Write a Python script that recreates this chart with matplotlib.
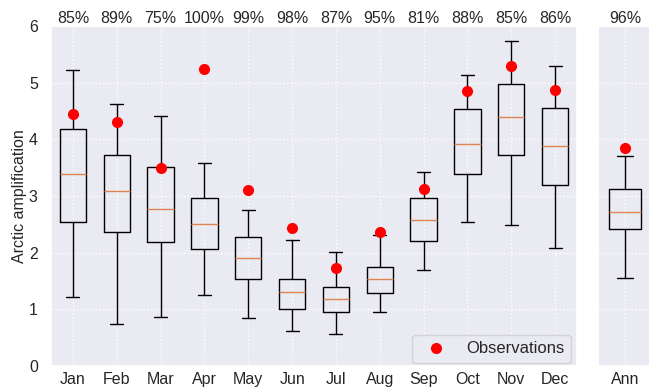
import matplotlib
matplotlib.use("Agg")
import matplotlib.pyplot as plt
import seaborn as sns
import numpy as np

months = ["Jan", "Feb", "Mar", "Apr", "May", "Jun", "Jul", "Aug", "Sep", "Oct", "Nov", "Dec"]
whislo = [1.22, 0.74, 0.87, 1.25, 0.85, 0.61, 0.56, 0.95, 1.69, 2.54, 2.48, 2.09]
q1 = [2.55, 2.36, 2.18, 2.06, 1.54, 1.01, 0.95, 1.28, 2.20, 3.38, 3.72, 3.19]
med = [3.39, 3.08, 2.77, 2.50, 1.91, 1.31, 1.18, 1.53, 2.57, 3.91, 4.40, 3.89]
q3 = [4.19, 3.73, 3.51, 2.96, 2.28, 1.54, 1.40, 1.74, 2.97, 4.53, 4.97, 4.55]
whishi = [5.22, 4.63, 4.41, 3.59, 2.75, 2.22, 2.01, 2.32, 3.42, 5.14, 5.74, 5.30]
obs = [4.44, 4.30, 3.49, 5.24, 3.11, 2.44, 1.73, 2.36, 3.12, 4.85, 5.29, 4.87]
pct = ["85%", "89%", "75%", "100%", "99%", "98%", "87%", "95%", "81%", "88%", "85%", "86%"]

ann_label = "Ann"
ann_stats = dict(whislo=1.56, q1=2.41, med=2.72, q3=3.12, whishi=3.70)
ann_obs = 3.84
ann_pct = "96%"

sns.set_theme(style="darkgrid")
plt.rcParams['font.family'] = ['Liberation Sans', 'DejaVu Sans']

FS = 11.5
W, H = 649, 392
fig = plt.figure(figsize=(W / 100, H / 100), dpi=100)
ax = fig.add_axes([51 / W, 1 - 366 / H, (577 - 51) / W, 340 / H])
ax2 = fig.add_axes([598 / W, 1 - 366 / H, 54 / W, 340 / H])

box_kw = dict(widths=0.6, showfliers=False, patch_artist=False,
              boxprops=dict(color="black", linewidth=1.0),
              whiskerprops=dict(color="black", linewidth=1.0),
              capprops=dict(color="black", linewidth=1.0),
              medianprops=dict(color="#DD8452", linewidth=1.0))

stats = [dict(label=m, whislo=a, q1=b, med=c, q3=d, whishi=e)
         for m, a, b, c, d, e in zip(months, whislo, q1, med, q3, whishi)]
ax.bxp(stats, positions=np.arange(1, 13), **box_kw)
ax.plot(np.arange(1, 13), obs, "o", color="red", markersize=7, label="Observations", zorder=5)
ax.set_xlim(0.5, 12.5)
ax.set_ylim(0, 6)
ax.set_xticks(np.arange(1, 13))
ax.set_xticklabels(months)
ax.set_ylabel("Arctic amplification", fontsize=FS, labelpad=1)
for i, p in enumerate(pct):
    ax.text(i + 1, 6.06, p, ha="center", va="baseline", fontsize=FS, color="#262626")
ax.grid(True, color="white", linestyle=":", linewidth=1.0)
ax.tick_params(labelsize=FS)
ax.tick_params(axis="x", length=0, pad=4.5)
ax.legend(loc="lower right", bbox_to_anchor=((570.7 - 51) / 526, 3 / 340),
          borderaxespad=0, fontsize=12, frameon=True)

ax2.bxp([dict(label=ann_label, **ann_stats)], positions=[1], **box_kw)
ax2.plot([1], [ann_obs], "o", color="red", markersize=7, zorder=5)
ax2.set_xlim(0.5, 1.5)
ax2.set_ylim(0, 6)
ax2.set_xticks([1])
ax2.set_xticklabels([ann_label])
ax2.set_yticklabels([])
ax2.text(1, 6.06, ann_pct, ha="center", va="baseline", fontsize=FS, color="#262626")
ax2.grid(True, color="white", linestyle=":", linewidth=1.0)
ax2.tick_params(labelsize=FS)
ax2.tick_params(axis="x", length=0, pad=4.5)

fig.savefig("out.png", dpi=100)
